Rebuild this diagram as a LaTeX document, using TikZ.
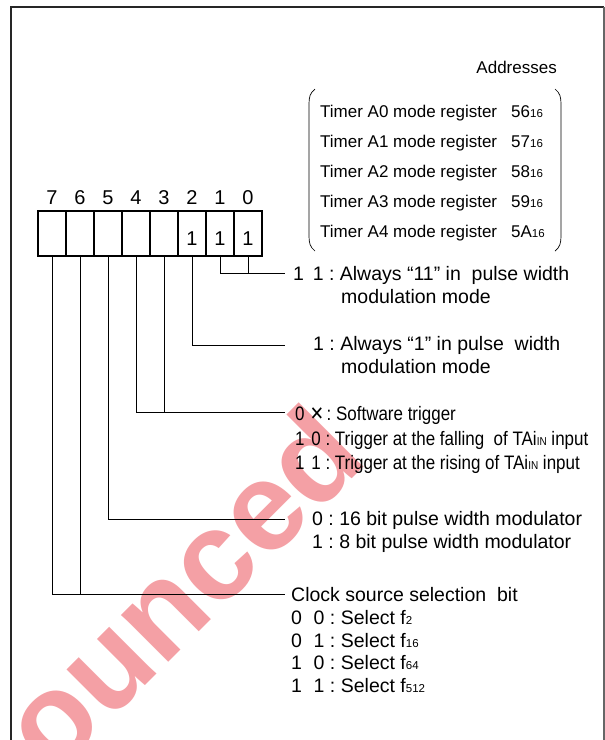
\documentclass[tikz,border=0pt]{standalone}
\usepackage{fontspec}
\setmainfont{Liberation Sans}
\newfontfamily\dejavu{DejaVu Sans}
\newcommand\fsz[1]{\fontsize{#1}{#1}\selectfont}
\newcommand\sbs[1]{{\fontsize{11.5}{11.5}\selectfont #1}}
\definecolor{wmark}{RGB}{244,160,165}
\AtBeginDocument{\frenchspacing}
\tikzset{
  cell/.style={draw, line width=1.8pt, minimum width=28pt, minimum height=45pt, inner sep=0pt},
  wire/.style={line width=0.9pt},
  big/.style={font=\fsz{19.5}, inner sep=0pt, anchor=base west},
  trig/.style={font=\fsz{19.5}, inner sep=0pt, anchor=base west},
  mid/.style={font=\fsz{17}, inner sep=0pt, anchor=base west},
  bitnum/.style={font=\fsz{20}, inner sep=0pt, anchor=base},
}
\begin{document}
\begin{tikzpicture}[x=1pt,y=-1pt]
\useasboundingbox (0,0) rectangle (605,740);
% watermark
\begin{scope}
\clip (0,0) rectangle (605,740);
\node[rotate=45, anchor=base, text=wmark, font=\bfseries\fsz{126}, inner sep=0pt] (wm) at (212,619) {ounced};
\end{scope}
% frame
\draw[line width=2pt, black!85] (11,745) -- (11,7) -- (604,7);
\draw[line width=1.5pt, black!60] (604,7) -- (604,745);
% addresses
\node[mid, anchor=base east] (addr) at (557,73) {Addresses};
\foreach \r/\v/\y in {0/56/117,1/57/147,2/58/177,3/59/207,4/5A/237}{
  \node[mid] (tA\r) at (320,\y) {Timer A\r\ mode register};
  \node[mid] (vA\r) at (511,\y) {\v\sbs{16}};
}
\draw[line width=0.7pt] (315,89) .. controls (310,93) and (309,97) .. (309,104) -- (309,236) .. controls (309,243) and (310,247) .. (315,251);
\draw[line width=0.7pt] (555,89) .. controls (560,93) and (561,97) .. (561,104) -- (561,236) .. controls (561,243) and (560,247) .. (555,251);
% bit cells
\foreach \i in {0,...,7}{
  \node[cell] (b\i) at ({248-28*\i},233.5) {};
  \node[bitnum] (n\i) at ({248-28*\i},204) {\i};
}
\foreach \i in {0,1,2}{
  \node[font=\fsz{20}, anchor=base, inner sep=0pt] (o\i) at ({248-28*\i},245) {1};
}
% connectors
\coordinate (e01) at (285,273);
\coordinate (e2) at (285,345);
\coordinate (e34) at (285,412);
\coordinate (e5) at (285,519);
\coordinate (e67) at (285,594);
\draw[wire] (b1.south) |- (e01);
\draw[wire] (b0.south) -- (b0.south |- e01);
\draw[wire] (b2.south) |- (e2);
\draw[wire] (b4.south) |- (e34);
\draw[wire] (b3.south) -- (b3.south |- e34);
\draw[wire] (b5.south) |- (e5);
\draw[wire] (b7.south) |- (e67);
\draw[wire] (b6.south) -- (b6.south |- e67);
% texts
\node[big] (t01a) at (293,280) {1\hspace{0.45em}1 : Always “11” in\ \ pulse width};
\node[big] (t01b) at (341,303) {modulation mode};
\node[big] (t2a) at (313,350) {1 : Always “1” in pulse\ \ width};
\node[big] (t2b) at (341,373) {modulation mode};
\node[trig] (t34a) at (295,420) {\scalebox{0.87}[1]{0\hspace{6pt}{\dejavu ✕}\hspace{3pt}: Software trigger}};
\node[trig] (t34b) at (295,445) {\scalebox{0.87}[1]{1\hspace{0.4em}0 : Trigger at the falling\ \ of TAi\sbs{IN} input}};
\node[trig] (t34c) at (295,469) {\scalebox{0.87}[1]{1\hspace{0.4em}1 : Trigger at the rising of TAi\sbs{IN} input}};
\node[big] (t5a) at (312,525) {0 : 16 bit pulse width modulator};
\node[big] (t5b) at (312,548) {1 : 8 bit pulse width modulator};
\node[big] (c0) at (291,601) {Clock source selection\ \ bit};
\node[big] (c1) at (291,624) {0\hspace{0.6em}0 : Select f\sbs{2}};
\node[big] (c2) at (291,647) {0\hspace{0.6em}1 : Select f\sbs{16}};
\node[big] (c3) at (291,669) {1\hspace{0.6em}0 : Select f\sbs{64}};
\node[big] (c4) at (291,692) {1\hspace{0.6em}1 : Select f\sbs{512}};
\end{tikzpicture}
\end{document}
